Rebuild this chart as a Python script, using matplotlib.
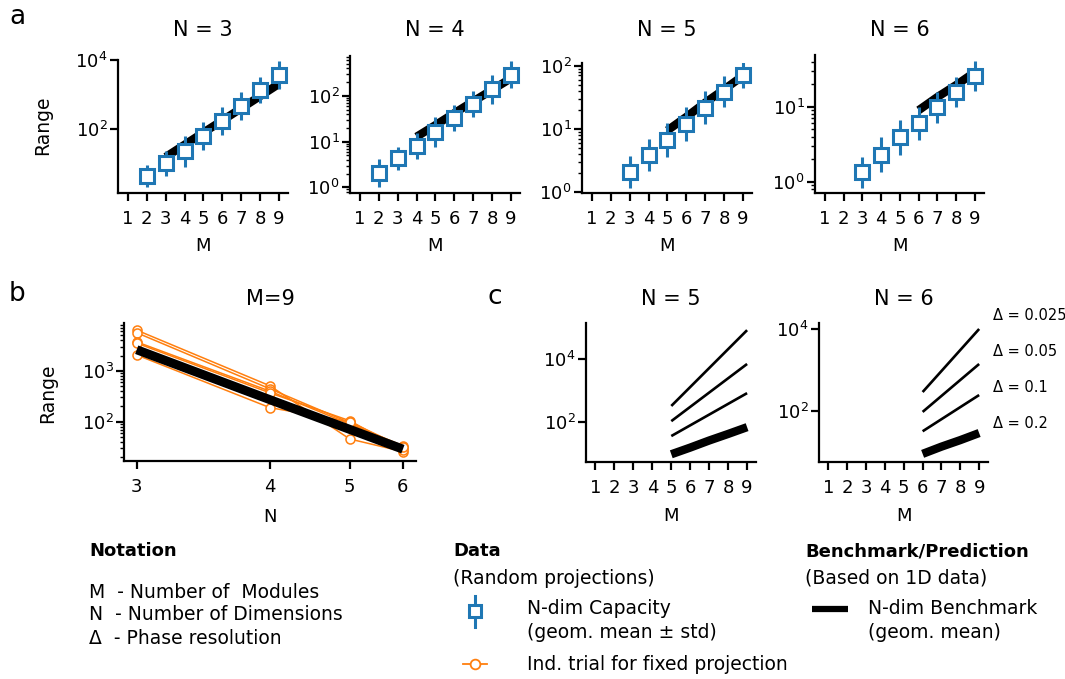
import numpy as np
import matplotlib
matplotlib.use("Agg")
import matplotlib.pyplot as plt
from matplotlib import ticker
from matplotlib.lines import Line2D

plt.rcParams['font.family'] = ['DejaVu Sans']
plt.rcParams['mathtext.default'] = 'regular'

# ---------------- data ----------------
M_ticks = [1, 2, 3, 4, 5, 6, 7, 8, 9]

# panel a : N-dim capacity (geom. mean) and geometric std factor
M_cap_N3 = [2, 3, 4, 5, 6, 7, 8, 9]
cap_N3 = [4.5, 10.4, 23.7, 65, 177, 480, 1350, 3680]
gsd_N3 = [2.1, 2.35, 2.8, 2.5, 2.5, 2.5, 2.4, 2.5]

M_cap_N4 = [2, 3, 4, 5, 6, 7, 8, 9]
cap_N4 = [2.03, 4.3, 8.1, 16.5, 33, 67, 140, 295]
gsd_N4 = [2.05, 1.8, 1.95, 2.15, 1.95, 1.95, 2.1, 1.95]

M_cap_N5 = [3, 4, 5, 6, 7, 8, 9]
cap_N5 = [2.1, 3.9, 6.7, 12, 21.7, 39, 72]
gsd_N5 = [1.8, 1.8, 1.85, 1.85, 1.8, 1.75, 1.65]

M_cap_N6 = [3, 4, 5, 6, 7, 8, 9]
cap_N6 = [1.33, 2.3, 3.9, 6.0, 9.8, 15.8, 25.7]
gsd_N6 = [1.6, 1.7, 1.7, 1.65, 1.6, 1.6, 1.6]

# N-dim benchmark (geom. mean)
M_bm_N3 = [3, 4, 5, 6, 7, 8, 9]
bm_N3 = [16, 36, 81, 180, 405, 910, 2050]
M_bm_N4 = [4, 5, 6, 7, 8, 9]
bm_N4 = [12.8, 23, 42, 76, 136, 244]
M_bm_N5 = [5, 6, 7, 8, 9]
bm_N5 = [9.5, 15.5, 26, 42, 69]
M_bm_N6 = [6, 7, 8, 9]
bm_N6 = [9.0, 13.5, 19.5, 29]

# panel b : M = 9
N_b = [3, 4, 5, 6]
bm_M9 = [2600, 272, 71, 29]
trial_1 = [6300, 510, 46, 26]
trial_2 = [5600, 445, 96, 30]
trial_3 = [3700, 400, 90, 34]
trial_4 = [3500, 370, 105, 28]
trial_5 = [2050, 190, 100, 32]

# panel c : predictions for phase resolutions
delta_labels = ['Δ = 0.025', 'Δ = 0.05', 'Δ = 0.1', 'Δ = 0.2']
M_c5 = [5, 9]
c5_d0025 = [325, 83000]
c5_d005 = [107, 7000]
c5_d01 = [36, 830]
M_c6 = [6, 9]
c6_d0025 = [290, 10000]
c6_d005 = [95, 1400]
c6_d01 = [32, 245]

BLUE = '#1f77b4'
ORANGE = '#ff7f0e'

W, H = 1065, 679
fig = plt.figure(figsize=(W / 100, H / 100), dpi=100)


def axpx(l, t, r, b):
    return fig.add_axes([l / W, 1 - b / H, (r - l) / W, (b - t) / H])


def T(x, y, s, **kw):
    kw.setdefault('va', 'center')
    return fig.text(x / W, 1 - y / H, s, **kw)


def style(ax):
    for s in ['top', 'right']:
        ax.spines[s].set_visible(False)
    for s in ['left', 'bottom']:
        ax.spines[s].set_linewidth(1.6)
    ax.tick_params(which='major', length=6, width=1.6, labelsize=13)
    ax.tick_params(which='minor', length=3, width=1.0)
    ax.tick_params(axis='x', pad=6)
    ax.tick_params(axis='y', pad=1.5)
    ax.yaxis.set_minor_formatter(ticker.NullFormatter())


# ---------------- panel a ----------------
a_specs = [
    ((118, 60, 288, 193), (1.46, 1e4), M_cap_N3, cap_N3, gsd_N3, M_bm_N3, bm_N3, 'N = 3', True),
    ((350, 56, 520, 193), (0.75, 750), M_cap_N4, cap_N4, gsd_N4, M_bm_N4, bm_N4, 'N = 4', False),
    ((582, 63, 752, 193), (0.975, 110), M_cap_N5, cap_N5, gsd_N5, M_bm_N5, bm_N5, 'N = 5', False),
    ((815, 55, 984, 193), (0.707, 49), M_cap_N6, cap_N6, gsd_N6, M_bm_N6, bm_N6, 'N = 6', False),
]
for (box, ylim, mc, cap, gsd, mb, bm, title, fixed) in a_specs:
    ax = axpx(*box)
    ax.set_yscale('log')
    ax.plot(mb, bm, color='black', lw=6, solid_capstyle='butt', zorder=2)
    cap = np.array(cap)
    gsd = np.array(gsd)
    ax.errorbar(mc, cap, yerr=[cap - cap / gsd, cap * gsd - cap], fmt='s',
                mfc='white', mec=BLUE, ecolor=BLUE, ms=9.5, mew=2.2,
                elinewidth=2.2, capsize=0, zorder=3)
    ax.set_xlim(0.47, 9.48)
    ax.set_ylim(*ylim)
    ax.set_xticks(M_ticks)
    if fixed:
        ax.yaxis.set_major_locator(ticker.FixedLocator([1e2, 1e4]))
        ax.yaxis.set_minor_locator(ticker.NullLocator())
    style(ax)
    cx = (box[0] + box[2]) / 2
    T(cx, 30, title, ha='center', fontsize=15)
    T(cx, 246, 'M', ha='center', fontsize=13)

T(43, 125, 'Range', ha='center', rotation=90, fontsize=13.5)
T(17, 17, 'a', ha='center', fontsize=19)

# ---------------- panel b ----------------
axb = axpx(124, 323, 416, 461)
axb.set_yscale('log')
axb.set_xscale('function', functions=(lambda n: -1.0 / n, lambda u: -1.0 / u))
for tr in [trial_1, trial_2, trial_3, trial_4, trial_5]:
    axb.plot(N_b, tr, color=ORANGE, lw=1.1, marker='o', ms=6.5, mfc='white',
             mec=ORANGE, mew=1.1, zorder=2)
axb.plot(N_b, bm_M9, color='black', lw=6.5, solid_capstyle='butt', zorder=3)
axb.set_xlim(2.93, 6.31)
axb.set_ylim(17, 8700)
axb.xaxis.set_major_locator(ticker.FixedLocator(N_b))
axb.xaxis.set_major_formatter(ticker.FixedFormatter([str(n) for n in N_b]))
axb.xaxis.set_minor_locator(ticker.NullLocator())
style(axb)
T(270, 299, 'M=9', ha='center', fontsize=15)
T(270, 517, 'N', ha='center', fontsize=13)
T(48, 393, 'Range', ha='center', rotation=90, fontsize=13.5)
T(17, 294, 'b', ha='center', fontsize=19)

# ---------------- panel c ----------------
c_specs = [
    ((586, 323, 756, 462), (5.4, 1.4e5), M_c5, [c5_d0025, c5_d005, c5_d01], M_bm_N5, bm_N5, 'N = 5'),
    ((819, 323, 988, 462), (5.7, 1.4e4), M_c6, [c6_d0025, c6_d005, c6_d01], M_bm_N6, bm_N6, 'N = 6'),
]
for (box, ylim, mc, lines, mb, bm, title) in c_specs:
    ax = axpx(*box)
    ax.set_yscale('log')
    for ln in lines:
        ax.plot(mc, ln, color='black', lw=1.9, solid_capstyle='butt')
    ax.plot(mb, bm, color='black', lw=6, solid_capstyle='butt')
    ax.set_xlim(0.5, 9.47)
    ax.set_ylim(*ylim)
    ax.set_xticks(M_ticks)
    ax.yaxis.set_major_locator(ticker.FixedLocator([1e2, 1e4]))
    ax.yaxis.set_minor_locator(ticker.NullLocator())
    style(ax)
    cx = (box[0] + box[2]) / 2
    T(cx, 299, title, ha='center', fontsize=15)
    T(cx, 516, 'M', ha='center', fontsize=13)

T(495, 297, 'c', ha='center', fontsize=19)
for lab, yy in zip(delta_labels, [315, 351, 388, 423]):
    T(993, yy, lab, ha='left', fontsize=10.5)

# ---------------- legend / notation ----------------
FS = 13.5
T(89, 551, 'Notation', ha='left', fontsize=13, fontweight='bold')
T(89, 593, 'M  - Number of  Modules', ha='left', fontsize=FS)
T(89, 615, 'N  - Number of Dimensions', ha='left', fontsize=FS)
T(89, 638, 'Δ  - Phase resolution', ha='left', fontsize=FS)

T(453, 551, 'Data', ha='left', fontsize=13, fontweight='bold')
T(453, 578, '(Random projections)', ha='left', fontsize=FS)
T(527, 609, 'N-dim Capacity', ha='left', fontsize=FS)
T(527, 633, '(geom. mean ± std)', ha='left', fontsize=FS)
T(527, 664, 'Ind. trial for fixed projection', ha='left', fontsize=FS)

T(805, 551, 'Benchmark/Prediction', ha='left', fontsize=13, fontweight='bold')
T(805, 578, '(Based on 1D data)', ha='left', fontsize=FS)
T(868, 609, 'N-dim Benchmark', ha='left', fontsize=FS)
T(868, 633, '(geom. mean)', ha='left', fontsize=FS)


def fx(x):
    return x / W


def fy(y):
    return 1 - y / H


fig.add_artist(Line2D([fx(475), fx(475)], [fy(596), fy(627)], color=BLUE, lw=2.2))
fig.add_artist(Line2D([fx(475)], [fy(611)], marker='s', ms=9, mfc='white', mec=BLUE, mew=2.2, ls='none'))
fig.add_artist(Line2D([fx(463), fx(487)], [fy(664), fy(664)], color=ORANGE, lw=1.3))
fig.add_artist(Line2D([fx(475)], [fy(664)], marker='o', ms=7, mfc='white', mec=ORANGE, mew=1.3, ls='none'))
fig.add_artist(Line2D([fx(812), fx(848)], [fy(609), fy(609)], color='black', lw=4.5, solid_capstyle='butt'))

fig.savefig('out.png', dpi=100)
